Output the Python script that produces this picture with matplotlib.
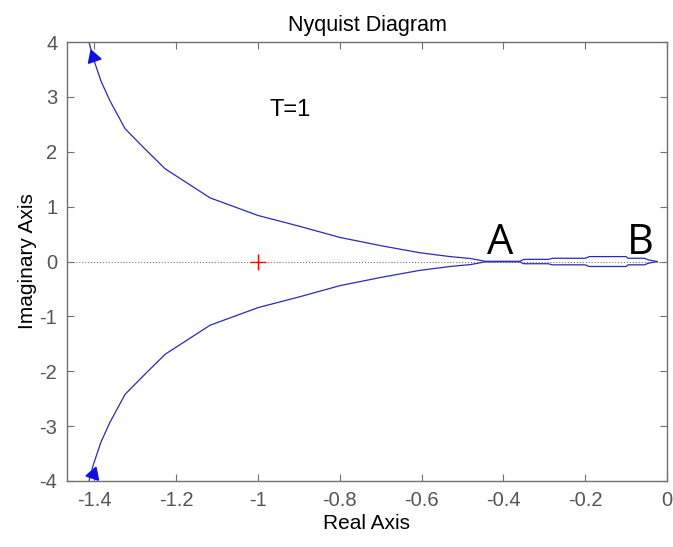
import numpy as np
import matplotlib
matplotlib.use("Agg")
import matplotlib.pyplot as plt

# upper branch of the Nyquist curve (lower branch is its mirror image)
re_upper = [-1.415, -1.403, -1.398, -1.384, -1.362, -1.325, -1.276, -1.227,
            -1.117, -1.0, -0.897, -0.8, -0.70, -0.604, -0.53, -0.48,
            -0.455, -0.445, -0.36, -0.35, -0.29, -0.28, -0.20, -0.19,
            -0.10, -0.095, -0.055, -0.045, -0.024]
im_upper = [4.05, 3.71, 3.60, 3.29, 2.93, 2.42, 2.05, 1.69,
            1.16, 0.84, 0.64, 0.44, 0.29, 0.16, 0.09, 0.055,
            0.02, 0.005, 0.005, 0.04, 0.04, 0.06, 0.06, 0.09,
            0.09, 0.06, 0.06, 0.03, 0.0]

# direction arrows: (re, im, rotation in degrees)
arrows = [(-1.403, 3.72, 19), (-1.403, -3.88, -19)]

xticks = [-1.4, -1.2, -1, -0.8, -0.6, -0.4, -0.2, 0]
yticks = [-4, -3, -2, -1, 0, 1, 2, 3, 4]

plt.rcParams['font.family'] = ['Liberation Sans', 'DejaVu Sans']

fig = plt.figure(figsize=(6.73, 5.47), dpi=100)
ax = fig.add_axes([0.0996, 0.1207, 0.8914, 0.8023])

re = np.array(re_upper)
im = np.array(im_upper)
curve_col = '#2a2ab8'

ax.axhline(0, color='#777777', linestyle=':', linewidth=0.8)
ax.plot(re, im, color=curve_col, linewidth=0.9)
ax.plot(re, -im, color=curve_col, linewidth=0.9)
for ar_re, ar_im, rot in arrows:
    ax.plot([ar_re], [ar_im], linestyle='none', marker=(3, 0, rot),
            markersize=11, color='#1010e0')
ax.plot([-1], [0], marker='+', color='red', markersize=11, markeredgewidth=1.0)

ax.text(-0.971, 2.65, 'T=1', fontsize=17, color='black')
ax.text(-0.408, 0.145, 'A', fontsize=30, family=['Open Sans', 'DejaVu Sans'],
        ha='center', va='baseline')
ax.text(-0.064, 0.145, 'B', fontsize=30, family=['Open Sans', 'DejaVu Sans'],
        ha='center', va='baseline')

ax.set_xlim(-1.467, 0)
ax.set_ylim(-4, 4)
ax.set_xticks(xticks)
ax.set_xticklabels(['-1.4', '-1.2', '-1', '-0.8', '-0.6', '-0.4', '-0.2', '0'])
ax.set_yticks(yticks)
ax.set_yticklabels([str(v) for v in yticks])

for s in ax.spines.values():
    s.set_color('#707070')
    s.set_linewidth(1.0)
ax.tick_params(direction='in', top=True, right=True, length=5, width=0.8,
               colors='#707070', labelcolor='#555555', labelsize=14.5, pad=7)

ax.set_title('Nyquist Diagram', fontsize=15.5, pad=8)
ax.set_xlabel('Real Axis', fontsize=15, labelpad=3)
ax.set_ylabel('Imaginary Axis', fontsize=15, labelpad=2)

fig.savefig('out.png', dpi=100)
